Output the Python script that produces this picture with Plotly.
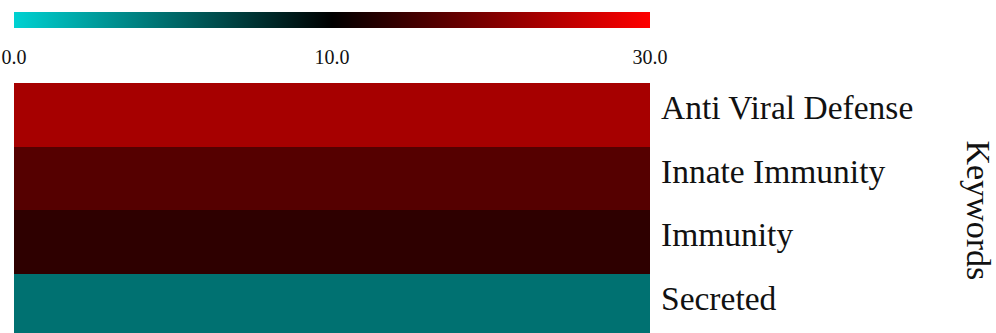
import numpy as np
import plotly.graph_objects as go

# Enrichment score per keyword (top to bottom)
keywords = ["Anti Viral Defense", "Innate Immunity", "Immunity", "Secreted"]
scores = [23.0, 16.7, 13.6, 4.6]

# Colour scale: breakpoints, their labels and colours
scale_breaks = [0.0, 10.0, 30.0]
scale_labels = ["0.0", "10.0", "30.0"]
scale_colors = ["#00d2d2", "#000000", "#ff0000"]

SERIF = "Liberation Serif, Times New Roman, serif"


def to_pos(v):
    """Piecewise-linear position on the colour bar: each segment gets equal length."""
    return float(np.interp(v, scale_breaks, np.linspace(0, 1, len(scale_breaks))))


rows = keywords[::-1]
z = [[to_pos(v)] for v in scores[::-1]]
raw = [[v] for v in scores[::-1]]

fig = go.Figure(
    go.Heatmap(
        z=z,
        y=rows,
        x=["score"],
        customdata=raw,
        hovertemplate="%{y}: %{customdata}<extra></extra>",
        zmin=0,
        zmax=1,
        colorscale=[[to_pos(b), c] for b, c in zip(scale_breaks, scale_colors)],
        colorbar=dict(
            orientation="h",
            lenmode="pixels",
            len=636,
            thickness=16,
            x=0,
            xanchor="left",
            xpad=0,
            y=1.284,
            yanchor="top",
            ypad=0,
            outlinewidth=0,
            tickvals=[to_pos(b) for b in scale_breaks],
            ticktext=scale_labels,
            ticks="outside",
            ticklen=12,
            tickcolor="rgba(0,0,0,0)",
            tickfont=dict(family=SERIF, size=20, color="#111"),
        ),
    )
)

fig.add_annotation(
    text="Keywords",
    xref="paper",
    yref="paper",
    x=1.548,
    y=0.49,
    textangle=90,
    showarrow=False,
    font=dict(family=SERIF, size=34, color="#111"),
)

fig.update_xaxes(visible=False)
fig.update_yaxes(
    side="right",
    ticks="",
    showgrid=False,
    zeroline=False,
    showline=False,
    range=[-0.44, 3.5],
    ticklabelstandoff=10,
    ticklabelshift=-7,
    tickfont=dict(family=SERIF, size=33.5, color="#111"),
)

fig.update_layout(
    width=996,
    height=333,
    margin=dict(l=14, r=346, t=83, b=0, autoexpand=False),
    paper_bgcolor="white",
    plot_bgcolor="white",
)

fig.write_html("out.html")
